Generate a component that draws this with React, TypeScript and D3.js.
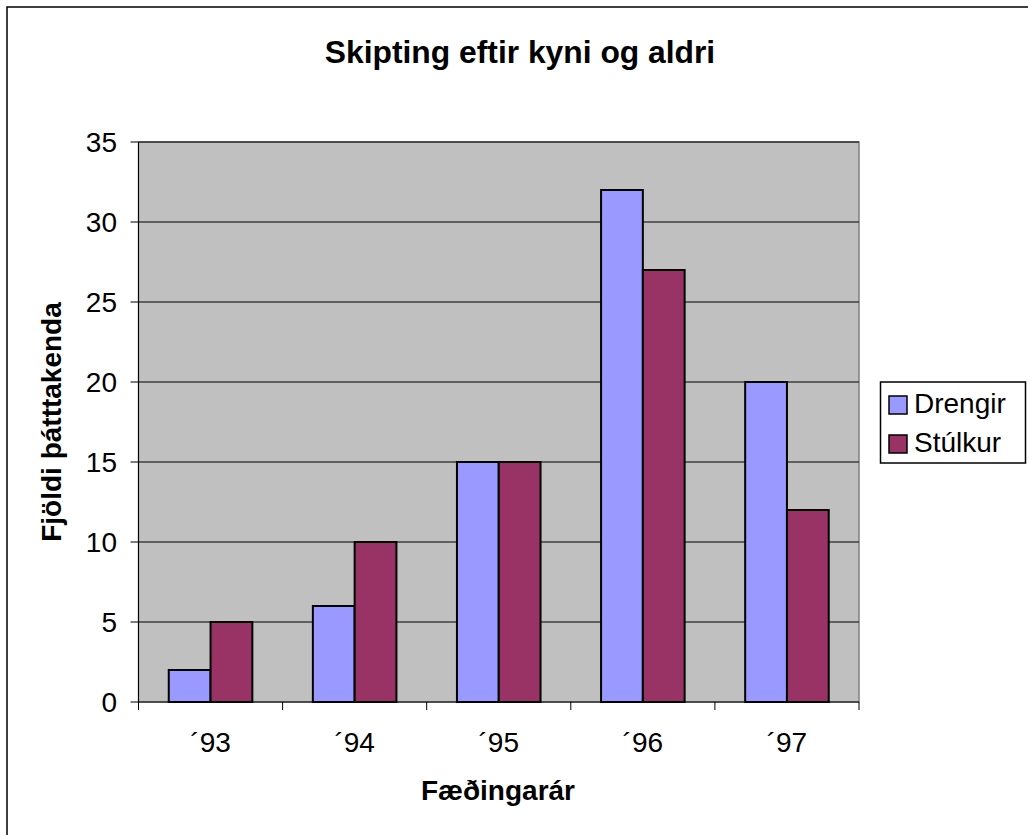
import React from "react";
import * as d3 from "d3";

const categories = ["´93", "´94", "´95", "´96", "´97"];
const seriesNames = ["Drengir", "Stúlkur"];
const drengir = [2, 6, 15, 32, 20];
const stulkur = [5, 10, 15, 27, 12];
const yTicks = [0, 5, 10, 15, 20, 25, 30, 35];
const colors = ["#9999FF", "#993366"];

const W = 1028;
const H = 835;
const font = "'Liberation Sans', Arial, sans-serif";

export default function App() {
  const left = 138.5, right = 859, top = 142, bottom = 702;
  const x = d3.scaleBand<string>().domain(categories).range([left, right]).padding(0);
  const bw = x.bandwidth();
  const gw = bw * 0.58;
  const xs = d3.scaleBand<string>().domain(seriesNames).range([(bw - gw) / 2, (bw + gw) / 2]);
  const y = d3.scaleLinear().domain([0, 35]).range([bottom, top]);
  const values = [drengir, stulkur];

  return (
    <svg width={W} height={H} style={{ position: "absolute", left: 0, top: 0 }} fontFamily={font}>
      <rect x={0} y={0} width={W} height={H} fill="#fff" />
      <rect x={7} y={7} width={W + 20} height={H + 20} fill="none" stroke="#000" strokeWidth={1.5} />
      <text x={520} y={63} textAnchor="middle" fontSize={31.8} fontWeight="bold">Skipting eftir kyni og aldri</text>
      <rect x={left} y={top} width={right - left} height={bottom - top} fill="#C0C0C0" stroke="#808080" strokeWidth={1.5} />
      {yTicks.filter(t => t > 0).map(t => (
        <line key={t} x1={left} x2={right} y1={y(t)} y2={y(t)} stroke="#000" strokeWidth={1} />
      ))}
      {yTicks.map(t => (
        <g key={"yt" + t}>
          <line x1={left - 8} x2={left} y1={y(t)} y2={y(t)} stroke="#000" strokeWidth={1} />
          <text x={117} y={y(t) + 10} textAnchor="end" fontSize={28}>{t}</text>
        </g>
      ))}
      {categories.map((c, i) => (
        <g key={c}>
          {values.map((vals, s) => {
            const bx = (x(c) as number) + (xs(seriesNames[s]) as number);
            return (
              <rect key={s} x={bx} y={y(vals[i])} width={xs.bandwidth()} height={y(0) - y(vals[i])}
                fill={colors[s]} stroke="#000" strokeWidth={2} />
            );
          })}
          <text x={(x(c) as number) + bw / 2} y={752} textAnchor="middle" fontSize={28}>{c}</text>
        </g>
      ))}
      {[...categories.map(c => x(c) as number), right].map((tx, i) => (
        <line key={"xt" + i} x1={tx} x2={tx} y1={bottom} y2={bottom + 8} stroke="#000" strokeWidth={1} />
      ))}
      <line x1={left} x2={left} y1={top} y2={bottom} stroke="#000" strokeWidth={1} />
      <line x1={left} x2={right} y1={bottom} y2={bottom} stroke="#000" strokeWidth={1} />
      <text x={498} y={800} textAnchor="middle" fontSize={28} fontWeight="bold">Fæðingarár</text>
      <text transform="translate(61,422) rotate(-90)" textAnchor="middle" fontSize={28} fontWeight="bold">Fjöldi þátttakenda</text>
      <rect x={880.5} y={382} width={145} height={81} fill="#fff" stroke="#000" strokeWidth={1.5} />
      {seriesNames.map((s, i) => (
        <g key={s}>
          <rect x={889} y={396 + i * 39} width={18} height={18} fill={colors[i]} stroke="#000" strokeWidth={1.5} />
          <text x={914} y={413 + i * 39} fontSize={28}>{s}</text>
        </g>
      ))}
    </svg>
  );
}
